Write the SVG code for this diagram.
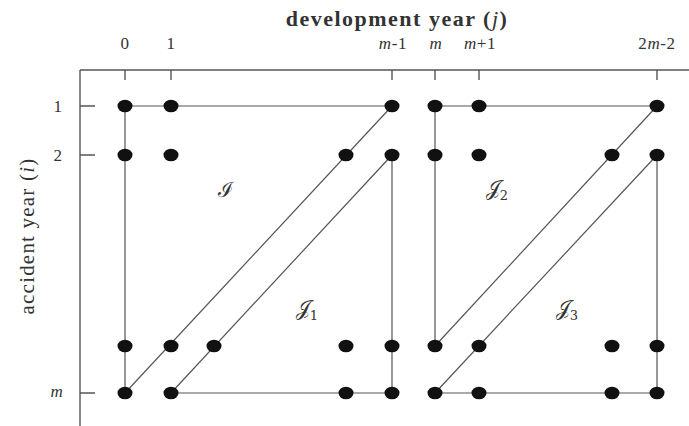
<svg xmlns="http://www.w3.org/2000/svg" width="689" height="426" viewBox="0 0 689 426">
<style>
.ax{stroke:#555;stroke-width:1.4;fill:none}
.ln{stroke:#555;stroke-width:1.2;fill:none}
.dot{fill:#111}
.t{font-family:"Liberation Serif","DejaVu Serif",serif;fill:#333}
.tk{font-size:17px;text-anchor:middle;letter-spacing:0.6px}
.reg{font-family:"DejaVu Serif","Liberation Serif",serif;font-size:21px;fill:#333;text-anchor:middle}
</style>
<defs>
<ellipse id="d" rx="7.5" ry="6.3" class="dot"/>
</defs>
<rect width="689" height="426" fill="#fff"/>
<g id="axes">
<path class="ax" d="M80 70H689M80 70V426"/>
<path class="ax" d="M125 70V80M171 70V80M392 70V80M435 70V80M479 70V80M657 70V80"/>
<path class="ax" d="M80 106H95M80 155H95M80 393H95"/>
<text class="t" x="397" y="26" text-anchor="middle" font-size="22" font-weight="bold" letter-spacing="1.5">development year (<tspan font-style="italic" font-weight="normal">j</tspan>)</text>
<text class="t" transform="translate(34,236) rotate(-90)" text-anchor="middle" font-size="21" letter-spacing="1.2">accident year (<tspan font-style="italic">i</tspan>)</text>
<text class="t tk" x="125" y="49">0</text>
<text class="t tk" x="171" y="49">1</text>
<text class="t tk" x="393" y="49"><tspan font-style="italic">m</tspan>-1</text>
<text class="t tk" x="436" y="49" font-style="italic">m</text>
<text class="t tk" x="480" y="49"><tspan font-style="italic">m</tspan>+1</text>
<text class="t tk" x="657" y="49">2<tspan font-style="italic">m</tspan>-2</text>
<text class="t tk" x="58" y="112">1</text>
<text class="t tk" x="58" y="161">2</text>
<text class="t tk" x="57" y="397" font-style="italic">m</text>
</g>
<g id="connectors">
<path class="ln" d="M125 106H392M125 106V393M125 393L392 106M171 393L392 155M392 155V393M171 393H392"/>
<path class="ln" d="M435 106H657M435 106V346M435 346L657 106M435 393L657 155M657 155V393M435 393H657"/>
</g>
<g id="region-I"><text class="reg" x="226" y="197">ℐ</text></g>
<g id="region-J1"><text class="reg" x="307" y="315">𝒥<tspan font-size="13" dy="5">1</tspan></text></g>
<g id="region-J2"><text class="reg" x="497" y="195">𝒥<tspan font-size="13" dy="5">2</tspan></text></g>
<g id="region-J3"><text class="reg" x="567" y="315">𝒥<tspan font-size="13" dy="5">3</tspan></text></g>
<g id="dots">
<use href="#d" x="125" y="106"/><use href="#d" x="171" y="106"/><use href="#d" x="392" y="106"/><use href="#d" x="435" y="106"/><use href="#d" x="479" y="106"/><use href="#d" x="657" y="106"/>
<use href="#d" x="125" y="155"/><use href="#d" x="171" y="155"/><use href="#d" x="346" y="155"/><use href="#d" x="392" y="155"/><use href="#d" x="435" y="155"/><use href="#d" x="479" y="155"/><use href="#d" x="612" y="155"/><use href="#d" x="657" y="155"/>
<use href="#d" x="125" y="346"/><use href="#d" x="171" y="346"/><use href="#d" x="214" y="346"/><use href="#d" x="346" y="346"/><use href="#d" x="392" y="346"/><use href="#d" x="435" y="346"/><use href="#d" x="479" y="346"/><use href="#d" x="612" y="346"/><use href="#d" x="657" y="346"/>
<use href="#d" x="125" y="393"/><use href="#d" x="171" y="393"/><use href="#d" x="346" y="393"/><use href="#d" x="392" y="393"/><use href="#d" x="435" y="393"/><use href="#d" x="479" y="393"/><use href="#d" x="612" y="393"/><use href="#d" x="657" y="393"/>
</g>
</svg>
